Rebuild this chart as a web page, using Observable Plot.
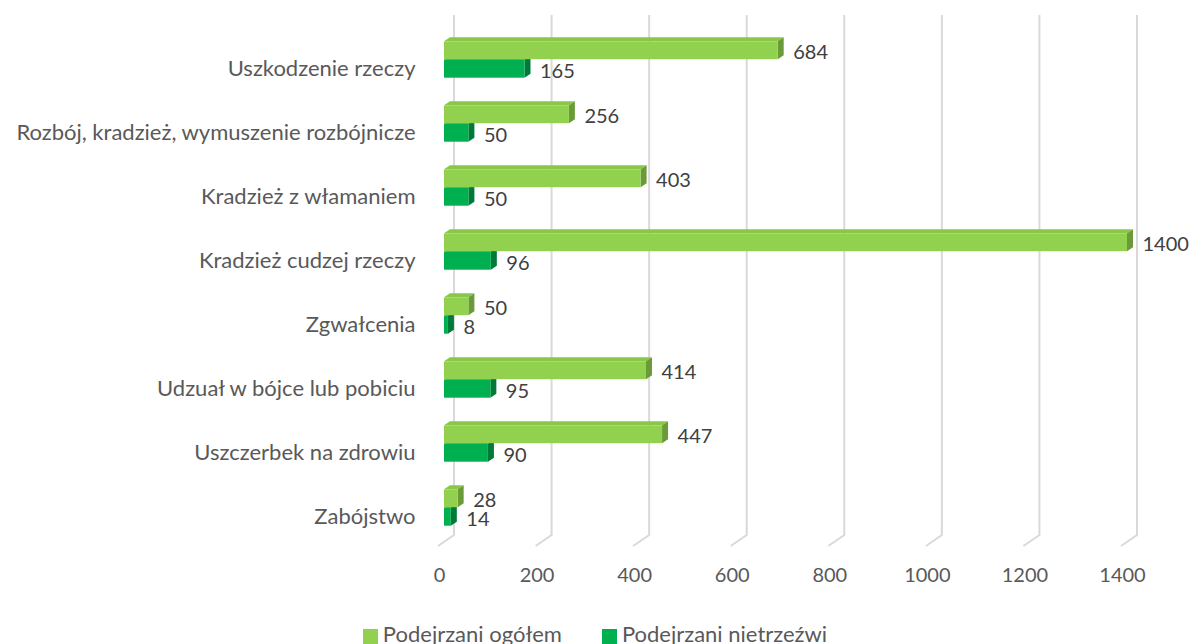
<!DOCTYPE html>
<html><head><meta charset="utf-8">
<script src="https://cdn.jsdelivr.net/npm/d3@7"></script>
<script src="https://cdn.jsdelivr.net/npm/@observablehq/plot@0.6"></script>
<style>
body{margin:0;background:#fff;overflow:hidden;font-family:Lato,sans-serif;}
#legend{display:flex;justify-content:center;gap:40px;font-size:22px;color:#595959;line-height:22px;padding-top:3px;white-space:nowrap;}
#legend span.item{display:flex;align-items:flex-start;}
#legend span.sw{display:inline-block;width:15px;height:15px;margin-right:5px;margin-top:6px;}
</style></head><body><div id="chart"></div><div id="legend"></div>
<script>
const categories = ["Uszkodzenie rzeczy","Rozbój, kradzież, wymuszenie rozbójnicze","Kradzież z włamaniem","Kradzież cudzej rzeczy","Zgwałcenia","Udzuał w bójce lub pobiciu","Uszczerbek na zdrowiu","Zabójstwo"];
const ogolem = [684,256,403,1400,50,414,447,28];
const nietrzezwi = [165,50,50,96,8,95,90,14];
const seriesNames = ["Podejrzani ogółem","Podejrzani nietrzeźwi"];
const xTicks = [0,200,400,600,800,1000,1200,1400];

const frontColors = ["#92D050","#00B050"];
const topColors = ["#88C748","#00A24A"];
const sideColors = ["#6B9B39","#007A37"];

const W = 1190, H = 620, mL = 444, mR = 63, mT = 31.7, mB = 71.7;
const insets = [{top: 7.3, bottom: 38.8}, {top: 25.8, bottom: 20.3}];
const depthX = 6, depthY = 4;

const rowsO = categories.map((c, i) => ({cat: c, value: ogolem[i], s: 0}));
const rowsN = categories.map((c, i) => ({cat: c, value: nietrzezwi[i], s: 1}));

function bandInfo(y) {
  const step = y(categories[1]) - y(categories[0]);
  const bw = typeof y.bandwidth === "function" ? y.bandwidth() : step;
  return bw;
}

function faces(rows, fi) {
  return (index, scales) => {
    const {x, y} = scales;
    const bw = bandInfo(y);
    const g = d3.create("svg:g");
    for (const d of rows) {
      const x0 = x(0), x1 = x(d.value);
      const yt = y(d.cat) + insets[fi].top, yb = y(d.cat) + bw - insets[fi].bottom;
      g.append("polygon")
        .attr("points", [[x0, yt], [x0 + depthX, yt - depthY], [x1 + depthX, yt - depthY], [x1, yt]].map(p => p.join(",")).join(" "))
        .attr("fill", topColors[fi]);
      g.append("polygon")
        .attr("points", [[x1, yt], [x1 + depthX, yt - depthY], [x1 + depthX, yb - depthY], [x1, yb]].map(p => p.join(",")).join(" "))
        .attr("fill", sideColors[fi]);
    }
    return g.node();
  };
}

function grid(index, scales) {
  const {x} = scales;
  const g = d3.create("svg:g").attr("stroke", "#D9D9D9").attr("stroke-width", 2).attr("fill", "none");
  for (const t of xTicks) {
    const xp = x(t);
    g.append("polyline").attr("points", `${xp + 10},15 ${xp + 10},535 ${xp - 6},546`);
  }
  return g.node();
}

const chart = Plot.plot({
  width: W, height: H,
  marginLeft: mL, marginRight: mR, marginTop: mT, marginBottom: mB,
  style: {fontFamily: "Lato, sans-serif", color: "#595959", background: "#fff"},
  x: {domain: [0, 1400], axis: null},
  y: {domain: categories, padding: 0, axis: null},
  marks: [
    grid,
    faces(rowsN, 1),
    Plot.barX(rowsN, {x: "value", y: "cat", fill: frontColors[1], insetTop: insets[1].top, insetBottom: insets[1].bottom}),
    faces(rowsO, 0),
    Plot.barX(rowsO, {x: "value", y: "cat", fill: frontColors[0], insetTop: insets[0].top, insetBottom: insets[0].bottom}),
    Plot.text(rowsO, {x: "value", y: "cat", text: d => String(d.value), dx: 15, dy: -13.5, textAnchor: "start", fontSize: 20, fill: "#404040"}),
    Plot.text(rowsN, {x: "value", y: "cat", text: d => String(d.value), dx: 15, dy: 5, textAnchor: "start", fontSize: 20, fill: "#404040"}),
    Plot.text(categories, {y: d => d, frameAnchor: "left", lineAnchor: "middle", textAnchor: "end", dx: -29, dy: 2, fontSize: 22, fill: "#595959"}),
    Plot.text(xTicks, {x: d => d, frameAnchor: "bottom", lineAnchor: "middle", dy: 27.2, dx: -5, text: d => String(d), fontSize: 20, fill: "#595959"})
  ]
});
document.getElementById("chart").appendChild(chart);

const legend = d3.select("#legend");
seriesNames.forEach((n, i) => {
  const item = legend.append("span").attr("class", "item");
  item.append("span").attr("class", "sw").style("background", frontColors[i]);
  item.append("span").text(n);
});
</script>
</body></html>
